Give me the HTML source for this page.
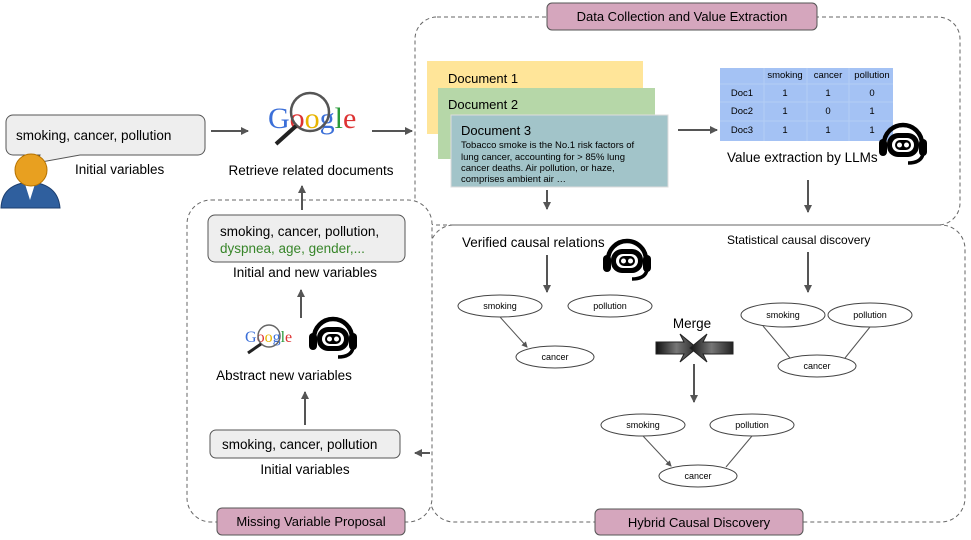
<!DOCTYPE html>
<html><head><meta charset="utf-8"><style>
html,body{margin:0;padding:0;background:#fff;}
svg{display:block;font-family:"Liberation Sans",Arial,sans-serif;}
</style></head><body>
<svg width="971" height="540" viewBox="0 0 971 540" xmlns="http://www.w3.org/2000/svg">
<defs>
<marker id="ah" markerWidth="8" markerHeight="8" refX="7" refY="4" orient="auto" markerUnits="userSpaceOnUse">
<path d="M0,0 L8,4 L0,8 z" fill="#555"/></marker>
<marker id="as" markerWidth="6" markerHeight="6" refX="5" refY="3" orient="auto" markerUnits="userSpaceOnUse">
<path d="M0,0 L6,3 L0,6 z" fill="#555"/></marker>
<g id="robot">
<path d="M-19,2 A19,19 0 0 1 19,2" fill="none" stroke="#000" stroke-width="4.5"/>
<rect x="-24" y="-3" width="8" height="17" rx="4" fill="#000"/>
<rect x="16" y="-3" width="8" height="17" rx="4" fill="#000"/>
<rect x="-16" y="-9" width="32" height="24" rx="11" fill="#000"/>
<rect x="-11" y="-4" width="22" height="14" rx="7" fill="#fff"/>
<rect x="-8" y="-2" width="16" height="10" rx="5" fill="#000"/>
<circle cx="-3.5" cy="3" r="2.5" fill="#fff"/><circle cx="3.5" cy="3" r="2.5" fill="#fff"/>
<path d="M20,12 Q18,21 5,21" fill="none" stroke="#000" stroke-width="3.5"/>
</g>
<linearGradient id="mg" x1="0" x2="1"><stop offset="0" stop-color="#111"/><stop offset="0.5" stop-color="#777"/><stop offset="1" stop-color="#222"/></linearGradient>
</defs>

<rect x="415" y="17" width="545" height="208" rx="22" fill="none" stroke="#666" stroke-dasharray="4,3"/>
<rect x="430" y="225" width="535" height="297" rx="24" fill="none" stroke="#666" stroke-dasharray="4,3"/>
<rect x="187" y="200" width="245" height="322" rx="24" fill="#fff" stroke="#666" stroke-dasharray="4,3"/>

<rect x="547" y="3" width="270" height="27" rx="5" fill="#d5a6bd" stroke="#555"/>
<text x="682" y="21" font-size="13" text-anchor="middle">Data Collection and Value Extraction</text>
<rect x="595" y="509" width="208" height="26" rx="5" fill="#d5a6bd" stroke="#555"/>
<text x="699" y="527" font-size="13" text-anchor="middle">Hybrid Causal Discovery</text>
<rect x="217" y="508" width="188" height="27" rx="5" fill="#d5a6bd" stroke="#555"/>
<text x="311" y="526" font-size="13" text-anchor="middle">Missing Variable Proposal</text>

<path d="M13,115 H198 a7,7 0 0 1 7,7 V148 a7,7 0 0 1 -7,7 H80 L36,163 L40,155 H13 a7,7 0 0 1 -7,-7 V122 a7,7 0 0 1 7,-7z" fill="#eee" stroke="#555"/>
<text x="16" y="140" font-size="13.5">smoking, cancer, pollution</text>
<text x="75" y="174" font-size="13.5">Initial variables</text>
<path d="M1,208 Q2,184 30,182 Q58,184 60,208z" fill="#2f5f9e" stroke="#1d3f70"/>
<path d="M25,184 L30,200 L35,184z" fill="#fff"/>
<circle cx="31" cy="170" r="16" fill="#e8a020" stroke="#b57200"/>

<line x1="211" y1="131" x2="248" y2="131" stroke="#555" stroke-width="2" marker-end="url(#ah)"/>
<text x="268" y="128" font-size="30" font-family="Liberation Serif,serif"><tspan fill="#3b6fd8">G</tspan><tspan fill="#d33">o</tspan><tspan fill="#e8b400">o</tspan><tspan fill="#3b6fd8">g</tspan><tspan fill="#2a9a3a">l</tspan><tspan fill="#d33">e</tspan></text>
<circle cx="310" cy="112" r="19" fill="none" stroke="#555" stroke-width="2.5"/>
<line x1="296" y1="126" x2="276" y2="144" stroke="#222" stroke-width="4"/>
<text x="311" y="175" font-size="13.5" text-anchor="middle">Retrieve related documents</text>
<line x1="372" y1="131" x2="412" y2="131" stroke="#555" stroke-width="2" marker-end="url(#ah)"/>

<rect x="427" y="61" width="216" height="73" fill="#ffe599"/>
<text x="448" y="83" font-size="13">Document 1</text>
<rect x="438" y="88" width="217" height="71" fill="#b6d7a8"/>
<text x="448" y="109" font-size="13">Document 2</text>
<rect x="451" y="115" width="217" height="72" fill="#a2c4c9" stroke="#ddd"/>
<text x="461" y="135" font-size="13">Document 3</text>
<g font-size="9.5"><text x="461" y="148">Tobacco smoke is the No.1 risk factors of</text>
<text x="461" y="160">lung cancer, accounting for &gt; 85% lung</text>
<text x="461" y="171">cancer deaths. Air pollution, or haze,</text>
<text x="461" y="182">comprises ambient air …</text></g>
<line x1="678" y1="130" x2="717" y2="130" stroke="#555" stroke-width="2" marker-end="url(#ah)"/>

<rect x="720" y="68" width="173" height="73" fill="#a4c2f4"/>
<g stroke="#b8d0f6" stroke-width="0.8"><line x1="764" y1="68" x2="764" y2="141"/><line x1="807" y1="68" x2="807" y2="141"/><line x1="849" y1="68" x2="849" y2="141"/>
<line x1="720" y1="84" x2="893" y2="84"/><line x1="720" y1="102" x2="893" y2="102"/><line x1="720" y1="121" x2="893" y2="121"/></g>
<g font-size="9.5" text-anchor="middle"><text x="785" y="78">smoking</text><text x="828" y="78">cancer</text><text x="872" y="78">pollution</text>
<text x="742" y="96">Doc1</text><text x="785" y="96">1</text><text x="828" y="96">1</text><text x="872" y="96">0</text>
<text x="742" y="114">Doc2</text><text x="785" y="114">1</text><text x="828" y="114">0</text><text x="872" y="114">1</text>
<text x="742" y="133">Doc3</text><text x="785" y="133">1</text><text x="828" y="133">1</text><text x="872" y="133">1</text></g>
<text x="727" y="162" font-size="13.5">Value extraction by LLMs</text>
<use href="#robot" transform="translate(903,142)"/>

<line x1="547" y1="190" x2="547" y2="209" stroke="#555" stroke-width="2" marker-end="url(#ah)"/>
<line x1="808" y1="180" x2="808" y2="212" stroke="#555" stroke-width="2" marker-end="url(#ah)"/>

<text x="462" y="247" font-size="13.5">Verified causal relations</text>
<line x1="547" y1="255" x2="547" y2="292" stroke="#555" stroke-width="2" marker-end="url(#ah)"/>
<use href="#robot" transform="translate(627,258)"/>
<text x="727" y="244" font-size="12">Statistical causal discovery</text>
<line x1="808" y1="252" x2="808" y2="292" stroke="#555" stroke-width="2" marker-end="url(#ah)"/>

<g fill="#fff" stroke="#444" stroke-width="1">
<ellipse cx="500" cy="306" rx="42" ry="11"/><ellipse cx="610" cy="306" rx="42" ry="11"/><ellipse cx="555" cy="357" rx="39" ry="11"/>
<ellipse cx="783" cy="315" rx="42" ry="12"/><ellipse cx="870" cy="315" rx="42" ry="12"/><ellipse cx="817" cy="366" rx="39" ry="11"/>
<ellipse cx="643" cy="425" rx="42" ry="11"/><ellipse cx="752" cy="425" rx="42" ry="11"/><ellipse cx="698" cy="476" rx="39" ry="11"/>
</g>
<g stroke="#555" stroke-width="1">
<line x1="500" y1="317" x2="527" y2="347" marker-end="url(#as)"/>
<line x1="763" y1="326" x2="790" y2="358"/><line x1="870" y1="327" x2="845" y2="358"/>
<line x1="643" y1="436" x2="671" y2="466" marker-end="url(#as)"/><line x1="752" y1="436" x2="726" y2="467"/>
</g>
<g font-size="9" text-anchor="middle">
<text x="500" y="309">smoking</text><text x="610" y="309">pollution</text><text x="555" y="360">cancer</text>
<text x="783" y="318">smoking</text><text x="870" y="318">pollution</text><text x="817" y="369">cancer</text>
<text x="643" y="428">smoking</text><text x="752" y="428">pollution</text><text x="698" y="479">cancer</text></g>

<text x="692" y="328" font-size="13.5" text-anchor="middle">Merge</text>
<path d="M656,342 H684 L680,334 L697,348 L680,362 L684,354 H656z" fill="url(#mg)" stroke="#222"/>
<path d="M733,342 H703 L707,334 L690,348 L707,362 L703,354 H733z" fill="url(#mg)" stroke="#222"/>
<line x1="694" y1="364" x2="694" y2="402" stroke="#555" stroke-width="2" marker-end="url(#ah)"/>

<line x1="430" y1="453" x2="415" y2="453" stroke="#555" stroke-width="2" marker-end="url(#ah)"/>

<line x1="302" y1="210" x2="302" y2="186" stroke="#555" stroke-width="2" marker-end="url(#ah)"/>
<rect x="208" y="215" width="197" height="47" rx="7" fill="#eee" stroke="#555"/>
<text x="220" y="236" font-size="13.5">smoking, cancer, pollution,</text>
<text x="220" y="253" font-size="13.5" fill="#38862a">dyspnea, age, gender,...</text>
<text x="305" y="277" font-size="13.5" text-anchor="middle">Initial and new variables</text>
<line x1="301" y1="318" x2="301" y2="290" stroke="#555" stroke-width="2" marker-end="url(#ah)"/>
<text x="245" y="342" font-size="16" font-family="Liberation Serif,serif"><tspan fill="#3b6fd8">G</tspan><tspan fill="#d33">o</tspan><tspan fill="#e8b400">o</tspan><tspan fill="#3b6fd8">g</tspan><tspan fill="#2a9a3a">l</tspan><tspan fill="#d33">e</tspan></text>
<circle cx="269" cy="336" r="11" fill="none" stroke="#666" stroke-width="1.5"/>
<line x1="261" y1="344" x2="248" y2="353" stroke="#222" stroke-width="3"/>
<use href="#robot" transform="translate(333,336)"/>
<text x="284" y="380" font-size="13.5" text-anchor="middle">Abstract new variables</text>
<line x1="305" y1="425" x2="305" y2="392" stroke="#555" stroke-width="2" marker-end="url(#ah)"/>
<rect x="210" y="430" width="190" height="28" rx="6" fill="#eee" stroke="#555"/>
<text x="222" y="449" font-size="13.5">smoking, cancer, pollution</text>
<text x="305" y="474" font-size="13.5" text-anchor="middle">Initial variables</text>
</svg>
</body></html>
